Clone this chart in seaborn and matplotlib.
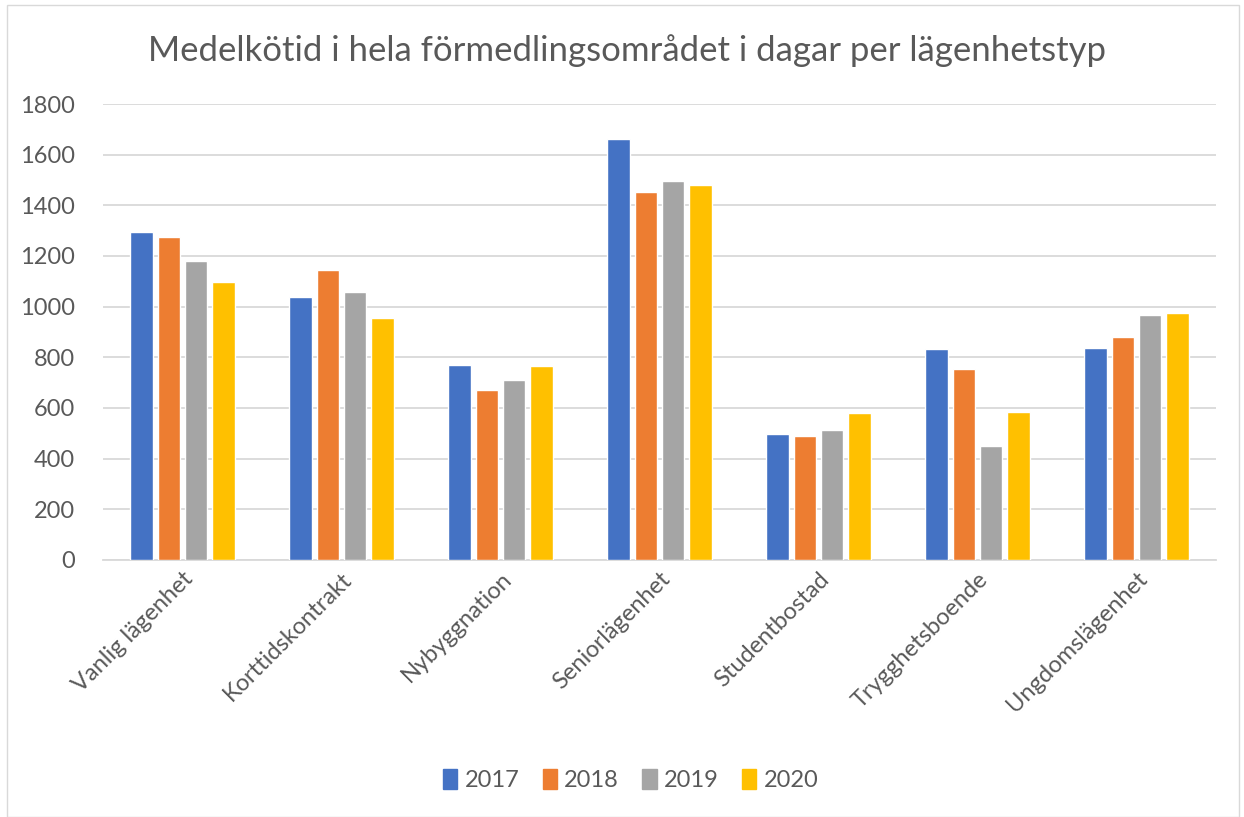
import matplotlib
matplotlib.use("Agg")
import matplotlib.pyplot as plt
import matplotlib.patches as mpatches
import numpy as np
import pandas as pd
import seaborn as sns

# data
categories = ['Vanlig lägenhet', 'Korttidskontrakt', 'Nybyggnation', 'Seniorlägenhet',
              'Studentbostad', 'Trygghetsboende', 'Ungdomslägenhet']
years = ['2017', '2018', '2019', '2020']
values_2017 = [1293, 1037, 768, 1663, 499, 831, 835]
values_2018 = [1275, 1143, 672, 1452, 488, 754, 879]
values_2019 = [1180, 1057, 709, 1496, 515, 449, 969]
values_2020 = [1099, 955, 764, 1481, 581, 583, 974]
colors = ['#4472C4', '#ED7D31', '#A5A5A5', '#FFC000']

df = pd.concat([
    pd.DataFrame({'typ': categories, 'dagar': v, 'år': y})
    for y, v in zip(years, [values_2017, values_2018, values_2019, values_2020])
], ignore_index=True)

sns.set_style('white')
plt.rcParams['font.family'] = ['Lato', 'DejaVu Sans']
text_color = '#595959'

fig = plt.figure(figsize=(12.44, 8.17), dpi=100)
ax = fig.add_axes([0.0828, 0.3146, 0.8947, 0.5581])

sns.barplot(data=df, x='typ', y='dagar', hue='år', palette=colors, saturation=1,
            width=0.69, gap=0.18, ax=ax, legend=False, zorder=3)

ax.set_ylim(0, 1800)
ax.set_yticks(np.arange(0, 1801, 200))
ax.set_xlim(-0.5, len(categories) - 0.5)
ax.yaxis.grid(True, color='#D9D9D9', linewidth=1.3, zorder=0)
ax.set_axisbelow(True)
for s in ['top', 'right', 'left']:
    ax.spines[s].set_visible(False)
ax.spines['bottom'].set_color('#D9D9D9')
ax.spines['bottom'].set_linewidth(1.3)
ax.set_xlabel('')
ax.set_ylabel('')
ax.tick_params(axis='both', length=0, colors=text_color, labelsize=17)
ax.tick_params(axis='y', pad=20)
ax.tick_params(axis='x', pad=6)
plt.setp(ax.get_xticklabels(), rotation=45, ha='right', rotation_mode='anchor')

fig.text(0.504, 0.938, 'Medelkötid i hela förmedlingsområdet i dagar per lägenhetstyp',
         ha='center', va='center', fontsize=25, color=text_color)

handles = [mpatches.Patch(color=c, label=y) for c, y in zip(colors, years)]
fig.legend(handles=handles, loc='center', bbox_to_anchor=(0.507, 0.045), ncol=4,
           frameon=False, fontsize=17, labelcolor=text_color, handlelength=0.6,
           handleheight=0.9, handletextpad=0.3, columnspacing=1.0)

# thin outer chart border
fig.patches.append(mpatches.Rectangle((0.006, 0.0), 0.99, 0.994, transform=fig.transFigure,
                                      fill=False, edgecolor='#D9D9D9', linewidth=1))

fig.savefig('out.png', dpi=100)
